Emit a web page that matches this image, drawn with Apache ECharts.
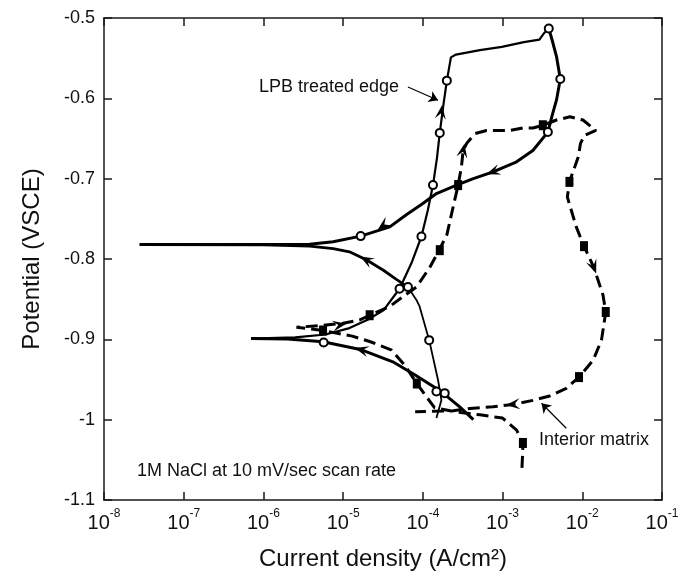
<!DOCTYPE html>
<html>
<head>
<meta charset="utf-8">
<script src="https://cdn.jsdelivr.net/npm/echarts@6/dist/echarts.min.js"></script>
<style>
  html, body { margin: 0; padding: 0; background: #fff; }
  #main { width: 685px; height: 579px; }
</style>
</head>
<body>
<div id="main"></div>
<script>
// LPB treated edge: forward scan, cathodic start up to the -0.9 V spike
var lpbCat1I = [4.3e-4, 2.9e-4, 1.7e-4, 7.9e-5, 4.2e-5, 1.7e-5, 5.6e-6, 2.0e-6, 7.0e-7];
var lpbCat1E = [-1.000, -0.984, -0.965, -0.944, -0.928, -0.913, -0.903, -0.8995, -0.899];
// LPB forward anodic: spike -> breakdown -> top
var lpbFwdI = [7.0e-7, 2.5e-6, 6.0e-6, 1.2e-5, 2.0e-5, 3.2e-5, 5.1e-5, 7.2e-5, 9.6e-5, 1.15e-4, 1.34e-4, 1.5e-4, 1.63e-4, 1.8e-4, 2.0e-4, 2.25e-4, 2.6e-4, 5.2e-4, 9.8e-4, 1.85e-3, 2.9e-3, 3.3e-3, 3.8e-3];
var lpbFwdE = [-0.899, -0.8975, -0.894, -0.886, -0.876, -0.864, -0.837, -0.805, -0.772, -0.740, -0.708, -0.675, -0.643, -0.610, -0.578, -0.549, -0.5455, -0.540, -0.536, -0.530, -0.527, -0.519, -0.513];
// LPB reverse scan, down to the -0.78 V spike
var lpbRevI = [3.8e-3, 4.2e-3, 4.75e-3, 5.3e-3, 4.75e-3, 4.2e-3, 3.7e-3, 2.4e-3, 1.5e-3, 7.6e-4, 4.3e-4, 2.65e-4, 1.48e-4, 1.0e-4, 6.2e-5, 3.85e-5, 1.66e-5, 7.5e-6, 3.8e-6, 1.0e-6, 2.8e-8];
var lpbRevE = [-0.513, -0.528, -0.548, -0.576, -0.602, -0.621, -0.642, -0.665, -0.679, -0.6915, -0.700, -0.708, -0.7185, -0.731, -0.745, -0.760, -0.7715, -0.7786, -0.7815, -0.782, -0.782];
// LPB reverse scan, out of the -0.78 V spike
var lpbCat2I = [2.8e-8, 1.0e-6, 3.8e-6, 7.5e-6, 1.2e-5, 1.95e-5, 3.2e-5, 4.6e-5, 6.5e-5];
var lpbCat2E = [-0.782, -0.7825, -0.784, -0.787, -0.791, -0.801, -0.814, -0.825, -0.835];
// LPB reverse cathodic tail (thin)
var lpbTailI = [6.5e-5, 8.3e-5, 9.1e-5, 1.2e-4, 1.55e-4, 1.71e-4, 1.48e-4];
var lpbTailE = [-0.835, -0.851, -0.859, -0.901, -0.9506, -0.9755, -0.998];
// LPB open circle markers
var lpbMarkI = [1.88e-4, 1.48e-4, 5.7e-6, 5.1e-5, 6.5e-5, 9.6e-5, 1.34e-4, 1.63e-4, 2.0e-4, 3.8e-3, 5.3e-3, 3.7e-3, 1.66e-5, 1.2e-4];
var lpbMarkE = [-0.967, -0.965, -0.904, -0.837, -0.835, -0.772, -0.708, -0.643, -0.578, -0.513, -0.576, -0.642, -0.7715, -0.901];

// Interior matrix (dashed)
var imI = [1.75e-3, 1.78e-3, 1.8e-3, 1.5e-3, 1.0e-3, 5.2e-4, 2.5e-4, 1.4e-4, 1.1e-4, 8.4e-5, 6.0e-5, 4.0e-5, 2.2e-5, 1.3e-5, 5.6e-6, 2.6e-6, 5.0e-6, 1.0e-5, 1.6e-5, 2.15e-5, 3.85e-5, 5.6e-5, 8.3e-5, 1.23e-4, 1.6e-4, 2.0e-4, 2.4e-4, 2.77e-4, 3.05e-4, 3.2e-4, 3.55e-4, 4.5e-4, 6.3e-4, 1.23e-3, 1.8e-3, 2.4e-3, 3.2e-3, 4.75e-3, 7.0e-3, 1.02e-2, 1.48e-2, 1.07e-2, 9.5e-3, 8.9e-3, 6.9e-3, 6.5e-3, 8.4e-3, 1.05e-2, 1.39e-2, 1.82e-2, 1.97e-2, 1.74e-2, 1.37e-2, 9.1e-3, 6.3e-3, 3.9e-3, 2.4e-3, 1.35e-3, 7.6e-4, 3.9e-4, 2.4e-4, 8.0e-5];
var imE = [-1.060, -1.045, -1.029, -1.013, -0.998, -0.994, -0.990, -0.985, -0.971, -0.955, -0.933, -0.913, -0.903, -0.896, -0.889, -0.885, -0.883, -0.880, -0.876, -0.870, -0.859, -0.847, -0.835, -0.810, -0.789, -0.770, -0.735, -0.708, -0.685, -0.665, -0.656, -0.644, -0.640, -0.640, -0.637, -0.637, -0.6335, -0.627, -0.623, -0.627, -0.640, -0.646, -0.656, -0.673, -0.704, -0.723, -0.760, -0.784, -0.810, -0.845, -0.866, -0.901, -0.926, -0.947, -0.961, -0.9705, -0.976, -0.981, -0.984, -0.986, -0.989, -0.990];
// Interior matrix filled square markers
var imMarkI = [1.8e-3, 8.4e-5, 5.6e-6, 2.15e-5, 1.63e-4, 2.77e-4, 3.2e-3, 6.9e-3, 1.05e-2, 1.97e-2, 9.1e-3];
var imMarkE = [-1.029, -0.955, -0.889, -0.870, -0.789, -0.708, -0.6335, -0.704, -0.784, -0.866, -0.947];

// scan direction arrowheads (current, potential, rotation in degrees)
var arrowI = [1.7e-5, 1.7e-4, 7.6e-4, 3.2e-5, 1.95e-5, 9e-6, 3.2e-4, 1.39e-2, 1.35e-3];
var arrowE = [-0.913, -0.617, -0.6915, -0.758, -0.801, -0.882, -0.665, -0.810, -0.981];
var arrowRot = [75, -8, 110, 127, 61, -80, -11, 201, 95];

// annotation pointers [from, to]
var noteFrom = [[6.5e-5, -0.5858], [6.3e-3, -1.0107]];
var noteTo = [[1.55e-4, -0.6024], [3.08e-3, -0.9796]];

var xTicks = [-8, -7, -6, -5, -4, -3, -2, -1];

function pairs(xs, ys) {
  return xs.map(function (x, i) { return [x, ys[i]]; });
}

var myChart = echarts.init(document.getElementById('main'));
var font = 'Liberation Sans, Arial, Helvetica, sans-serif';
var lineCol = '#1a1a1a';

function curve(name, xs, ys, width, dash) {
  return {
    name: name, type: 'line', data: pairs(xs, ys), showSymbol: false,
    lineStyle: { color: '#000', width: width, type: dash || 'solid' }
  };
}

var option = {
  animation: false,
  backgroundColor: '#fff',
  grid: { left: 104, right: 23, top: 18, bottom: 79, outerBoundsMode: 'none' },
  xAxis: [{
    type: 'log', logBase: 10,
    min: Math.pow(10, xTicks[0]), max: Math.pow(10, xTicks[xTicks.length - 1]),
    splitNumber: 7,
    name: 'Current density (A/cm\u00B2)', nameLocation: 'middle', nameGap: 47,
    nameTextStyle: { fontFamily: font, fontSize: 24, color: '#111' },
    axisLine: { lineStyle: { color: lineCol, width: 1.5 } },
    axisTick: { inside: true, length: 8, lineStyle: { color: lineCol, width: 1.5 } },
    splitLine: { show: false },
    minorTick: { show: false },
    axisLabel: {
      margin: 8,
      formatter: function (v) {
        var e = Math.round(Math.log(v) / Math.LN10);
        return '{a|10}{b|' + e + '}';
      },
      rich: {
        a: { fontFamily: font, fontSize: 20, color: '#111', lineHeight: 30 },
        b: { fontFamily: font, fontSize: 12, color: '#111', lineHeight: 12, verticalAlign: 'top' }
      }
    }
  }, {
    type: 'log', logBase: 10, position: 'top',
    min: Math.pow(10, xTicks[0]), max: Math.pow(10, xTicks[xTicks.length - 1]),
    splitNumber: 7,
    axisLine: { lineStyle: { color: lineCol, width: 1.5 } },
    axisTick: { inside: true, length: 8, lineStyle: { color: lineCol, width: 1.5 } },
    axisLabel: { show: false },
    splitLine: { show: false }
  }],
  yAxis: [{
    type: 'value', min: -1.1, max: -0.5, interval: 0.1,
    name: 'Potential (VSCE)', nameLocation: 'middle', nameGap: 60,
    nameTextStyle: { fontFamily: font, fontSize: 24, color: '#111' },
    axisLine: { lineStyle: { color: lineCol, width: 1.5 } },
    axisTick: { inside: true, length: 8, lineStyle: { color: lineCol, width: 1.5 } },
    splitLine: { show: false },
    axisLabel: { fontFamily: font, fontSize: 18, color: '#111', margin: 9 }
  }, {
    type: 'value', position: 'right', min: -1.1, max: -0.5, interval: 0.1,
    axisLine: { show: true, lineStyle: { color: lineCol, width: 1.5 } },
    axisTick: { show: true, inside: true, length: 8, lineStyle: { color: lineCol, width: 1.5 } },
    axisLabel: { show: false },
    splitLine: { show: false }
  }],
  series: [
    curve('Interior matrix', imI, imE, 3, [12, 6]),
    curve('LPB cathodic', lpbCat1I, lpbCat1E, 3),
    curve('LPB forward', lpbFwdI, lpbFwdE, 2.2),
    curve('LPB reverse', lpbRevI, lpbRevE, 3),
    curve('LPB reverse cathodic', lpbCat2I, lpbCat2E, 2.8),
    curve('LPB reverse tail', lpbTailI, lpbTailE, 1.8),
    {
      name: 'Interior markers', type: 'scatter', data: pairs(imMarkI, imMarkE),
      symbol: 'rect', symbolSize: [8, 10], itemStyle: { color: '#000', opacity: 1 }, z: 4
    },
    {
      name: 'LPB markers', type: 'scatter', data: pairs(lpbMarkI, lpbMarkE),
      symbol: 'emptyCircle', symbolSize: 8,
      itemStyle: { color: '#000', borderWidth: 1.2, opacity: 1 }, z: 4
    },
    {
      name: 'arrows', type: 'scatter',
      data: arrowI.map(function (x, i) { return [x, arrowE[i], arrowRot[i]]; }),
      symbol: 'path://M5,0 L10,12 L5,7 L0,12 Z', symbolSize: [11, 14],
      symbolRotate: function (v) { return v[2]; },
      itemStyle: { color: '#000', opacity: 1 }, z: 5
    },
    {
      name: 'notes', type: 'lines', coordinateSystem: 'cartesian2d',
      data: noteFrom.map(function (p, i) { return { coords: [p, noteTo[i]] }; }),
      symbol: ['none', 'arrow'], symbolSize: 9,
      lineStyle: { color: '#000', width: 1.2, opacity: 1 }, z: 5
    }
  ],
  graphic: [
    { type: 'text', x: 259, y: 87, style: { text: 'LPB treated edge', font: '18px ' + font, fill: '#111', textVerticalAlign: 'middle' } },
    { type: 'text', x: 539, y: 440, style: { text: 'Interior matrix', font: '18px ' + font, fill: '#111', textVerticalAlign: 'middle' } },
    { type: 'text', x: 137, y: 471, style: { text: '1M NaCl at 10 mV/sec scan rate', font: '18px ' + font, fill: '#111', textVerticalAlign: 'middle' } }
  ]
};

myChart.setOption(option);
</script>
</body>
</html>
